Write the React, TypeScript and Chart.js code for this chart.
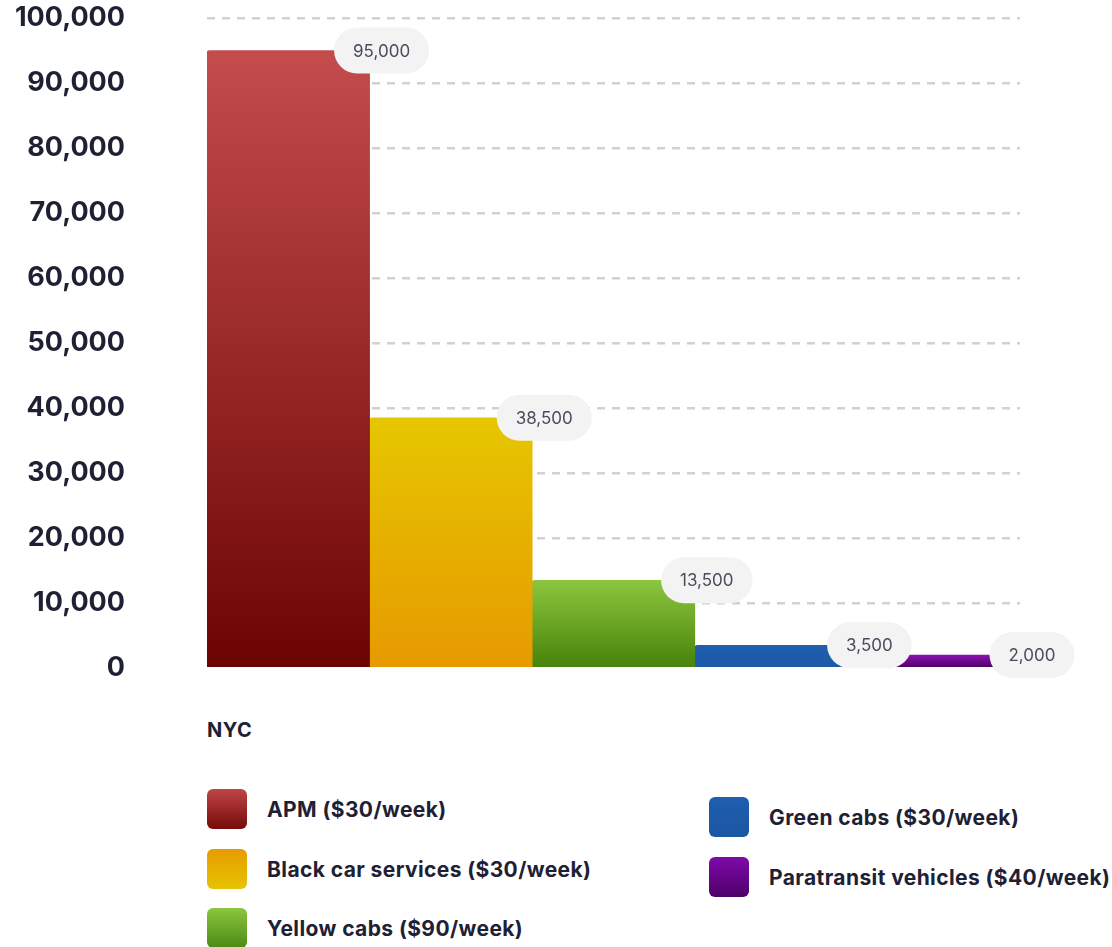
import React, { useEffect, useRef } from "react";
import { Chart, registerables } from "chart.js";

Chart.register(...registerables);

const categories = ["NYC"];
const seriesNames = [
  "APM ($30/week)",
  "Black car services ($30/week)",
  "Yellow cabs ($90/week)",
  "Green cabs ($30/week)",
  "Paratransit vehicles ($40/week)",
];
const seriesValues = [95000, 38500, 13500, 3500, 2000];
const barTopColors = ["#c44c4c", "#e6c600", "#8cc63e", "#1f5fae", "#8a12b2"];
const barBottomColors = ["#6c0404", "#e69a00", "#47820a", "#1c58a6", "#4c0062"];
const legendTopColors = ["#c04545", "#e69c00", "#8cc63e", "#1f5fae", "#7e0aa8"];
const legendBottomColors = ["#760a0a", "#e6c400", "#4b8a14", "#1b56a2", "#4e006a"];
const yTicks = [0, 10000, 20000, 30000, 40000, 50000, 60000, 70000, 80000, 90000, 100000];

const FONT = "Inter, 'Noto Sans', 'DejaVu Sans', sans-serif";
const TEXT_DARK = "#1e2134";

const fmt = (v: number) => v.toLocaleString("en-US");

const pillPlugin = {
  id: "pillLabels",
  afterDatasetsDraw(chart: any) {
    const ctx = chart.ctx;
    ctx.save();
    ctx.font = `400 17px ${FONT}`;
    ctx.textAlign = "center";
    ctx.textBaseline = "middle";
    chart.data.datasets.forEach((ds: any, i: number) => {
      const meta = chart.getDatasetMeta(i);
      const el = meta.data[0];
      if (!el) return;
      const p = el.getProps(["x", "y", "width"], true);
      const text = fmt(ds.data[0]);
      const tw = ctx.measureText(text).width;
      const w = tw + 38;
      const h = 46;
      const cx = p.x + p.width / 2 + 12;
      const cy = p.y;
      ctx.fillStyle = "#f3f3f4";
      ctx.beginPath();
      ctx.roundRect(cx - w / 2, cy - h / 2, w, h, h / 2);
      ctx.fill();
      ctx.fillStyle = "#4a4c5c";
      ctx.fillText(text, cx, cy + 1);
    });
    ctx.restore();
  },
};

export default function App() {
  const canvasRef = useRef<HTMLCanvasElement | null>(null);

  useEffect(() => {
    document.body.style.margin = "0";
    const canvas = canvasRef.current;
    if (!canvas) return;
    const chart = new Chart(canvas, {
      type: "bar",
      data: {
        labels: categories,
        datasets: seriesNames.map((name, i) => ({
          label: name,
          data: [seriesValues[i]],
          borderRadius: { topLeft: 3, topRight: 3, bottomLeft: 0, bottomRight: 0 },
          borderSkipped: "bottom",
          backgroundColor: (c: any) => {
            const ch = c.chart;
            const ys = ch.scales && ch.scales.y;
            if (!ch.chartArea || !ys) return barTopColors[i];
            const top = ys.getPixelForValue(seriesValues[i]);
            const bottom = ys.getPixelForValue(0);
            const g = ch.ctx.createLinearGradient(0, top, 0, bottom);
            g.addColorStop(0, barTopColors[i]);
            g.addColorStop(1, barBottomColors[i]);
            return g;
          },
        })),
      },
      options: {
        responsive: true,
        maintainAspectRatio: false,
        animation: false,
        layout: { padding: { top: 18, bottom: 22, right: 92, left: 0 } },
        datasets: { bar: { categoryPercentage: 1, barPercentage: 1 } },
        plugins: {
          legend: { display: false },
          tooltip: { enabled: false },
        },
        scales: {
          x: { display: false },
          y: {
            min: 0,
            max: 100000,
            afterFit: (s: any) => {
              s.width = 207;
              s.paddingTop = 14;
              s.paddingBottom = 14;
            },
            afterBuildTicks: (s: any) => {
              s.ticks = yTicks.map((v) => ({ value: v }));
            },
            border: { display: false, dash: [8, 7] },
            grid: {
              color: (c: any) => (c.tick && c.tick.value === 0 ? "rgba(0,0,0,0)" : "#d2d2d2"),
              lineWidth: 2.5,
              drawTicks: false,
            },
            ticks: {
              padding: 82,
              color: TEXT_DARK,
              font: { family: FONT, size: 27, weight: "bold" },
              callback: (v: any) => fmt(Number(v)),
            },
          },
        },
      },
      plugins: [pillPlugin],
    });
    return () => chart.destroy();
  }, []);

  const legendItem = (i: number, left: number, top: number) => (
    <div
      key={i}
      style={{ position: "absolute", left, top, height: 40, display: "flex", alignItems: "center" }}
    >
      <div
        style={{
          width: 40,
          height: 40,
          borderRadius: 6,
          background: `linear-gradient(${legendTopColors[i]}, ${legendBottomColors[i]})`,
          marginRight: 20,
          flexShrink: 0,
        }}
      />
      <span
        style={{
          fontFamily: FONT,
          fontWeight: 700,
          fontSize: 21,
          letterSpacing: 0.4,
          color: TEXT_DARK,
          whiteSpace: "nowrap",
        }}
      >
        {seriesNames[i]}
      </span>
    </div>
  );

  return (
    <div style={{ position: "relative", width: 1112, height: 947, background: "#fff", overflow: "hidden" }}>
      <div style={{ position: "absolute", left: 0, top: 0, width: 1112, height: 690 }}>
        <canvas ref={canvasRef} />
      </div>
      <div
        style={{
          position: "absolute",
          left: 207,
          top: 718,
          fontFamily: FONT,
          fontWeight: 700,
          fontSize: 20,
          letterSpacing: 0.5,
          color: TEXT_DARK,
        }}
      >
        {categories[0]}
      </div>
      {legendItem(0, 207, 789)}
      {legendItem(1, 207, 849)}
      {legendItem(2, 207, 908)}
      {legendItem(3, 709, 797)}
      {legendItem(4, 709, 857)}
    </div>
  );
}
